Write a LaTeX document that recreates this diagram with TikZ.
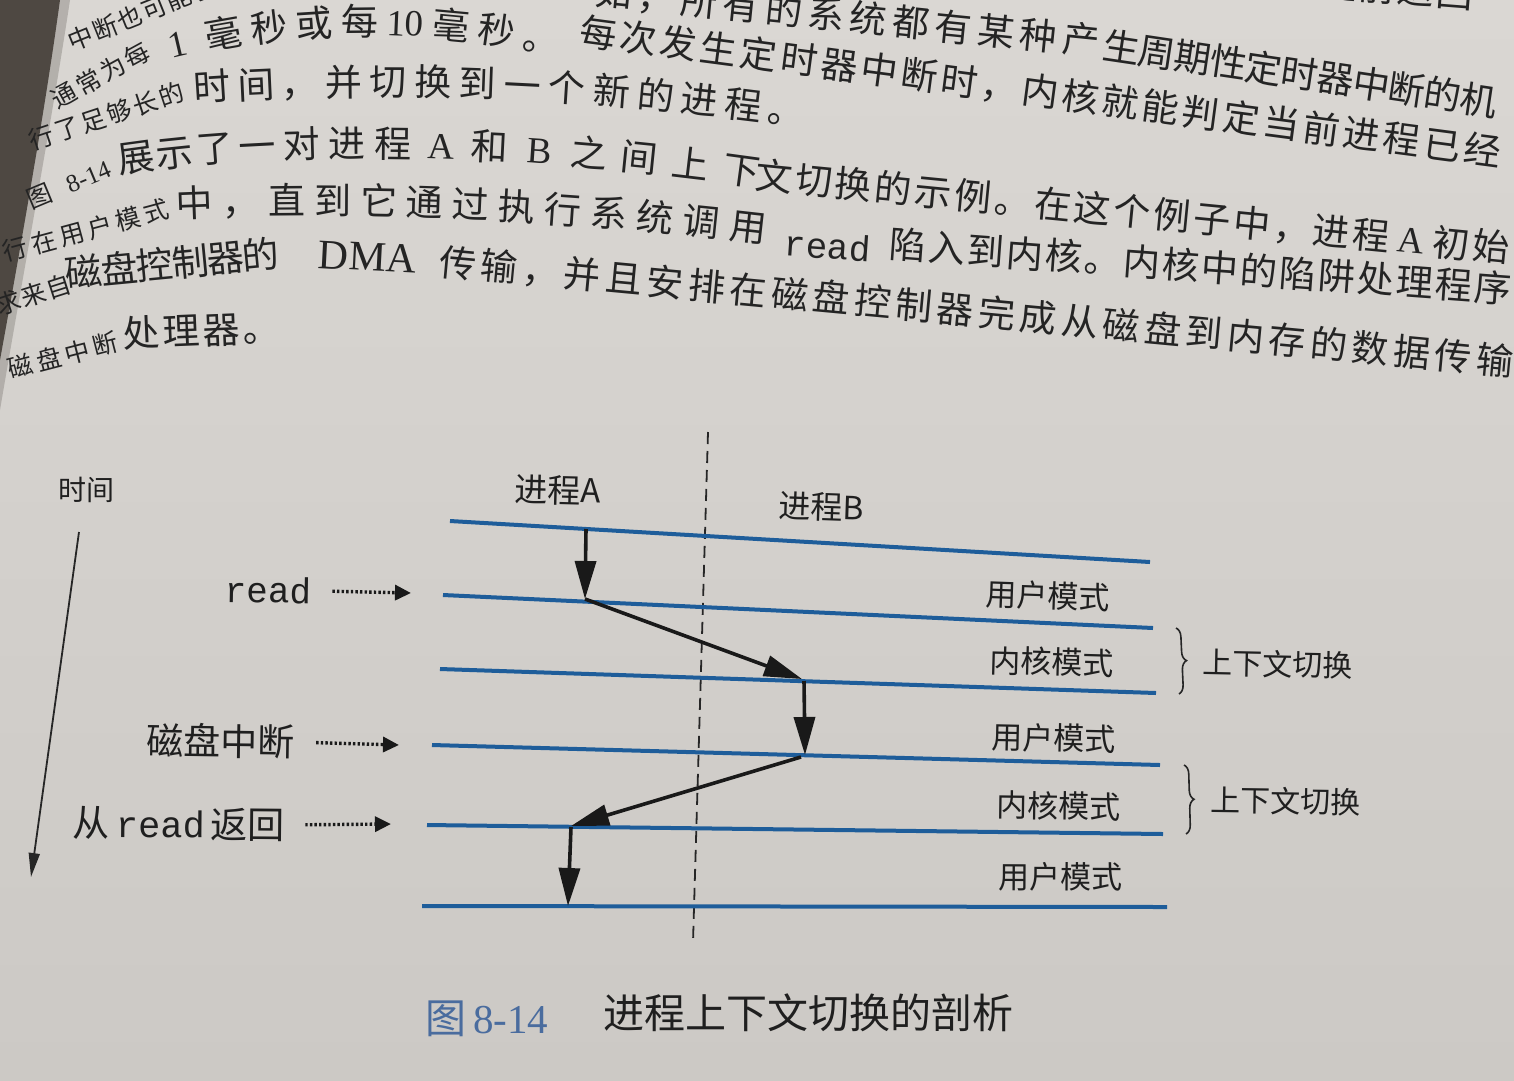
\documentclass[tikz,border=0pt]{standalone}
\usepackage{fontspec}
\newfontfamily\cjk{Noto Sans CJK SC}
\newfontfamily\lat{Liberation Serif}
\newfontfamily\mono{Liberation Mono}
\usetikzlibrary{arrows.meta,decorations.pathreplacing}
\definecolor{paperTop}{HTML}{DAD7D3}
\definecolor{paperBot}{HTML}{CCC9C5}
\definecolor{ink}{HTML}{242424}
\definecolor{lineblue}{HTML}{1E5D9A}
\definecolor{capblue}{HTML}{4A6C9E}
\definecolor{gutter}{HTML}{4E4842}
% one line of body text: [style]{name}{path}{gaps}{tokens}
\newcommand\chseg[5][bodyc]{%
  \path #3 foreach \tok [count=\i] in {#5} {node[#1, sloped, pos={(\i-1)/#4}] (#2\i) {\tok}};}
\tikzset{
  bodyc/.style={font=\cjk\fontsize{37}{37}\selectfont, text=ink, inner sep=0pt, text height=0.83em, text depth=0.07em},
  bodys/.style={bodyc, font=\cjk\fontsize{25}{25}\selectfont},
  lab/.style={font=\cjk\fontsize{31}{31}\selectfont, text=black!88, inner sep=1pt},
  bluel/.style={draw=lineblue, line width=4pt},
  blk/.style={draw=black!90, line width=3.6pt, -{Triangle[length=38pt,width=21pt]}},
  dotarrow/.style={draw=black!90, line width=3.4pt, dash pattern=on 2.4pt off 2.2pt, -{Triangle[length=16pt,width=15pt]}},
  timearrow/.style={draw=black!85, line width=1.8pt, -{Triangle[length=24pt,width=11pt]}},
  dashline/.style={draw=black!85, line width=1.8pt, dash pattern=on 12pt off 7pt},
  bracest/.style={draw=black!85, line width=1.6pt, decorate, decoration={brace, amplitude=9pt}}
}
\begin{document}
\begin{tikzpicture}[x=1pt,y=-1pt]
\useasboundingbox (0,0) rectangle (1514,1080);
\clip (0,0) rectangle (1514,1080);
% paper and gutter
\shade[top color=paperTop, bottom color=paperBot] (0,0) rectangle (1514,1080);
\fill[gutter!45!paperTop, opacity=0.6] (58,0) .. controls (43,110) and (18,250) .. (0,350) -- (0,410) .. controls (22,280) and (52,120) .. (70,0) -- cycle;
\fill[gutter] (0,0) -- (60,0) .. controls (45,110) and (20,250) .. (0,360) -- cycle;

% ---------------- body text ----------------
\chseg[bodys]{p0a}{(83,43) -- (205,-6)}{5}{中,断,也,可,能,引}
\chseg{p0b}{(1338,-6) -- (1454,3)}{3}{提,前,返,回}
\chseg{p1a}{(613,3) -- (1080,50)}{11}{如,，,所,有,的,系,统,都,有,某,种,产}
\chseg{p1b}{(1120,57) -- (1477,110)}{10}{生,周,期,性,定,时,器,中,断,的,机}
\chseg[bodys]{p2a}{(67,100) -- (140,60)}{3}{通,常,为,每}
\chseg{p2b}{(180,53) .. controls (300,25) and (420,25) .. (540,48)}{8}{{\lat 1},毫,秒,或,每,{\lat 10},毫,秒,。}
\chseg{p2c}{(597,43) -- (1481,160)}{22}{每,次,发,生,定,时,器,中,断,时,，,内,核,就,能,判,定,当,前,进,程,已,经}
\chseg[bodys]{p3a}{(43,143) -- (173,100)}{5}{行,了,足,够,长,的}
\chseg{p3b}{(213,97) .. controls (400,85) and (600,95) .. (785,120)}{13}{时,间,，,并,切,换,到,一,个,新,的,进,程,。}
\chseg[bodys]{p4a}{(42,201) -- (90,181)}{1}{图,{\lat 8-14}}
\chseg{p4b}{(137,167) .. controls (300,145) and (520,150) .. (740,180)}{13}{展,示,了,一,对,进,程,{\lat A},和,{\lat B},之,间,上,下}
\chseg{p4c}{(773,187) -- (1490,257)}{18}{文,切,换,的,示,例,。,在,这,个,例,子,中,，,进,程,{\lat A},初,始}
\chseg[bodys]{p5a}{(17,255) -- (158,217)}{5}{行,在,用,户,模,式}
\chseg{p5b}{(195,213) .. controls (380,206) and (560,216) .. (747,237)}{12}{中,，,直,到,它,通,过,执,行,系,统,调,用}
\node[bodyc, font=\mono\fontsize{36}{36}\selectfont, rotate=-4] (p5read) at (827,255) {read};
\chseg{p5c}{(907,255) -- (1492,298)}{15}{陷,入,到,内,核,。,内,核,中,的,陷,阱,处,理,程,序}
\chseg[bodys]{p6a}{(10,308) -- (60,292)}{2}{求,来,自}
\chseg{p6b}{(85,282) -- (262,265)}{5}{磁,盘,控,制,器,的}
\node[bodyc, font=\lat\fontsize{42}{42}\selectfont, rotate=-3] (p6dma) at (367,267) {DMA};
\chseg{p6c}{(457,273) -- (1494,370)}{25}{传,输,，,并,且,安,排,在,磁,盘,控,制,器,完,成,从,磁,盘,到,内,存,的,数,据,传,输}
\chseg[bodys]{p7a}{(22,372) -- (107,350)}{3}{磁,盘,中,断}
\chseg{p7b}{(142,343) -- (262,338)}{3}{处,理,器,。}

% ---------------- diagram ----------------
% dashed separator
\coordinate (d1) at (708,432);
\coordinate (d2) at (693,942);
\draw[dashline] (d1) -- (d2);

% blue mode boundaries
\coordinate (l1a) at (450,521); \coordinate (l1b) at (1150,562);
\coordinate (l2a) at (443,595); \coordinate (l2b) at (1153,628);
\coordinate (l3a) at (440,669); \coordinate (l3b) at (1156,693);
\coordinate (l4a) at (432,745); \coordinate (l4b) at (1160,765);
\coordinate (l5a) at (427,825); \coordinate (l5b) at (1163,834);
\coordinate (l6a) at (422,906); \coordinate (l6b) at (1167,907);
\draw[bluel] (l1a) -- (l1b);
\draw[bluel] (l2a) -- (l2b);
\draw[bluel] (l3a) -- (l3b);
\draw[bluel] (l4a) -- (l4b);
\draw[bluel] (l5a) -- (l5b);
\draw[bluel] (l6a) -- (l6b);

% control flow arrows
\coordinate (a1s) at (586,529);
\coordinate (a1e) at (585,599);
\coordinate (a2e) at (802,679);
\coordinate (a3s) at (804,681);
\coordinate (a3e) at (805,755);
\coordinate (a4s) at (801,757);
\coordinate (a4e) at (571,826);
\coordinate (a5s) at (571,827);
\coordinate (a5e) at (568,906);
\draw[blk] (a1s) -- (a1e);
\draw[blk] (a1e) -- (a2e);
\draw[blk] (a3s) -- (a3e);
\draw[blk] (a4s) -- (a4e);
\draw[blk] (a5s) -- (a5e);

% time axis
\node[lab, font=\cjk\fontsize{28}{28}\selectfont] (time) at (86,490) {时间};
\coordinate (t1) at (79,532);
\coordinate (t2) at (31,877);
\draw[timearrow] (t1) -- (t2);

% process labels
\node[lab, font=\cjk\fontsize{33}{33}\selectfont, rotate=-1.5] (pA) at (558,490) {进程A};
\node[lab, font=\cjk\fontsize{32}{32}\selectfont, rotate=-2] (pB) at (821,507) {进程B};

% event labels with dotted arrows
\node[lab, font=\mono\fontsize{36}{36}\selectfont, rotate=-1] (read) at (268,590) {read};
\coordinate (readt) at (411,593);
\draw[dotarrow, shorten <=20pt] (read.east) -- (readt);
\node[lab, font=\cjk\fontsize{37}{37}\selectfont, rotate=-0.8] (disk) at (221,741) {磁盘中断};
\coordinate (diskt) at (399,745);
\draw[dotarrow, shorten <=20pt] (disk.east) -- (diskt);
\node[lab, font=\cjk\fontsize{37}{37}\selectfont, rotate=-0.5] (ret) at (179,824) {从\,{\mono read}\,返回};
\coordinate (rett) at (391,824);
\draw[dotarrow, shorten <=19pt] (ret.east) -- (rett);

% mode labels
\node[lab, rotate=-2] (m1) at (1048,596) {用户模式};
\node[lab, rotate=-1.6] (m2) at (1052,662) {内核模式};
\node[lab, rotate=-1.2] (m3) at (1054,738) {用户模式};
\node[lab, rotate=-0.8] (m4) at (1059,806) {内核模式};
\node[lab, rotate=-0.3] (m5) at (1061,877) {用户模式};

% context switch braces
\draw[bracest] (1176,628) -- (1179,694);
\node[lab, font=\cjk\fontsize{30}{30}\selectfont, rotate=-1.2] (cs1) at (1278,664) {上下文切换};
\draw[bracest] (1184,765) -- (1186,834);
\node[lab, font=\cjk\fontsize{30}{30}\selectfont, rotate=-0.8] (cs2) at (1286,801) {上下文切换};

% caption
\node[font=\cjk\fontsize{41}{41}\selectfont, text=capblue, inner sep=0pt] (capn) at (487,1019) {图\,{\lat 8-14}};
\node[font=\cjk\fontsize{41}{41}\selectfont, text=black!88, inner sep=0pt] (capt) at (808,1013) {进程上下文切换的剖析};
\end{tikzpicture}
\end{document}
